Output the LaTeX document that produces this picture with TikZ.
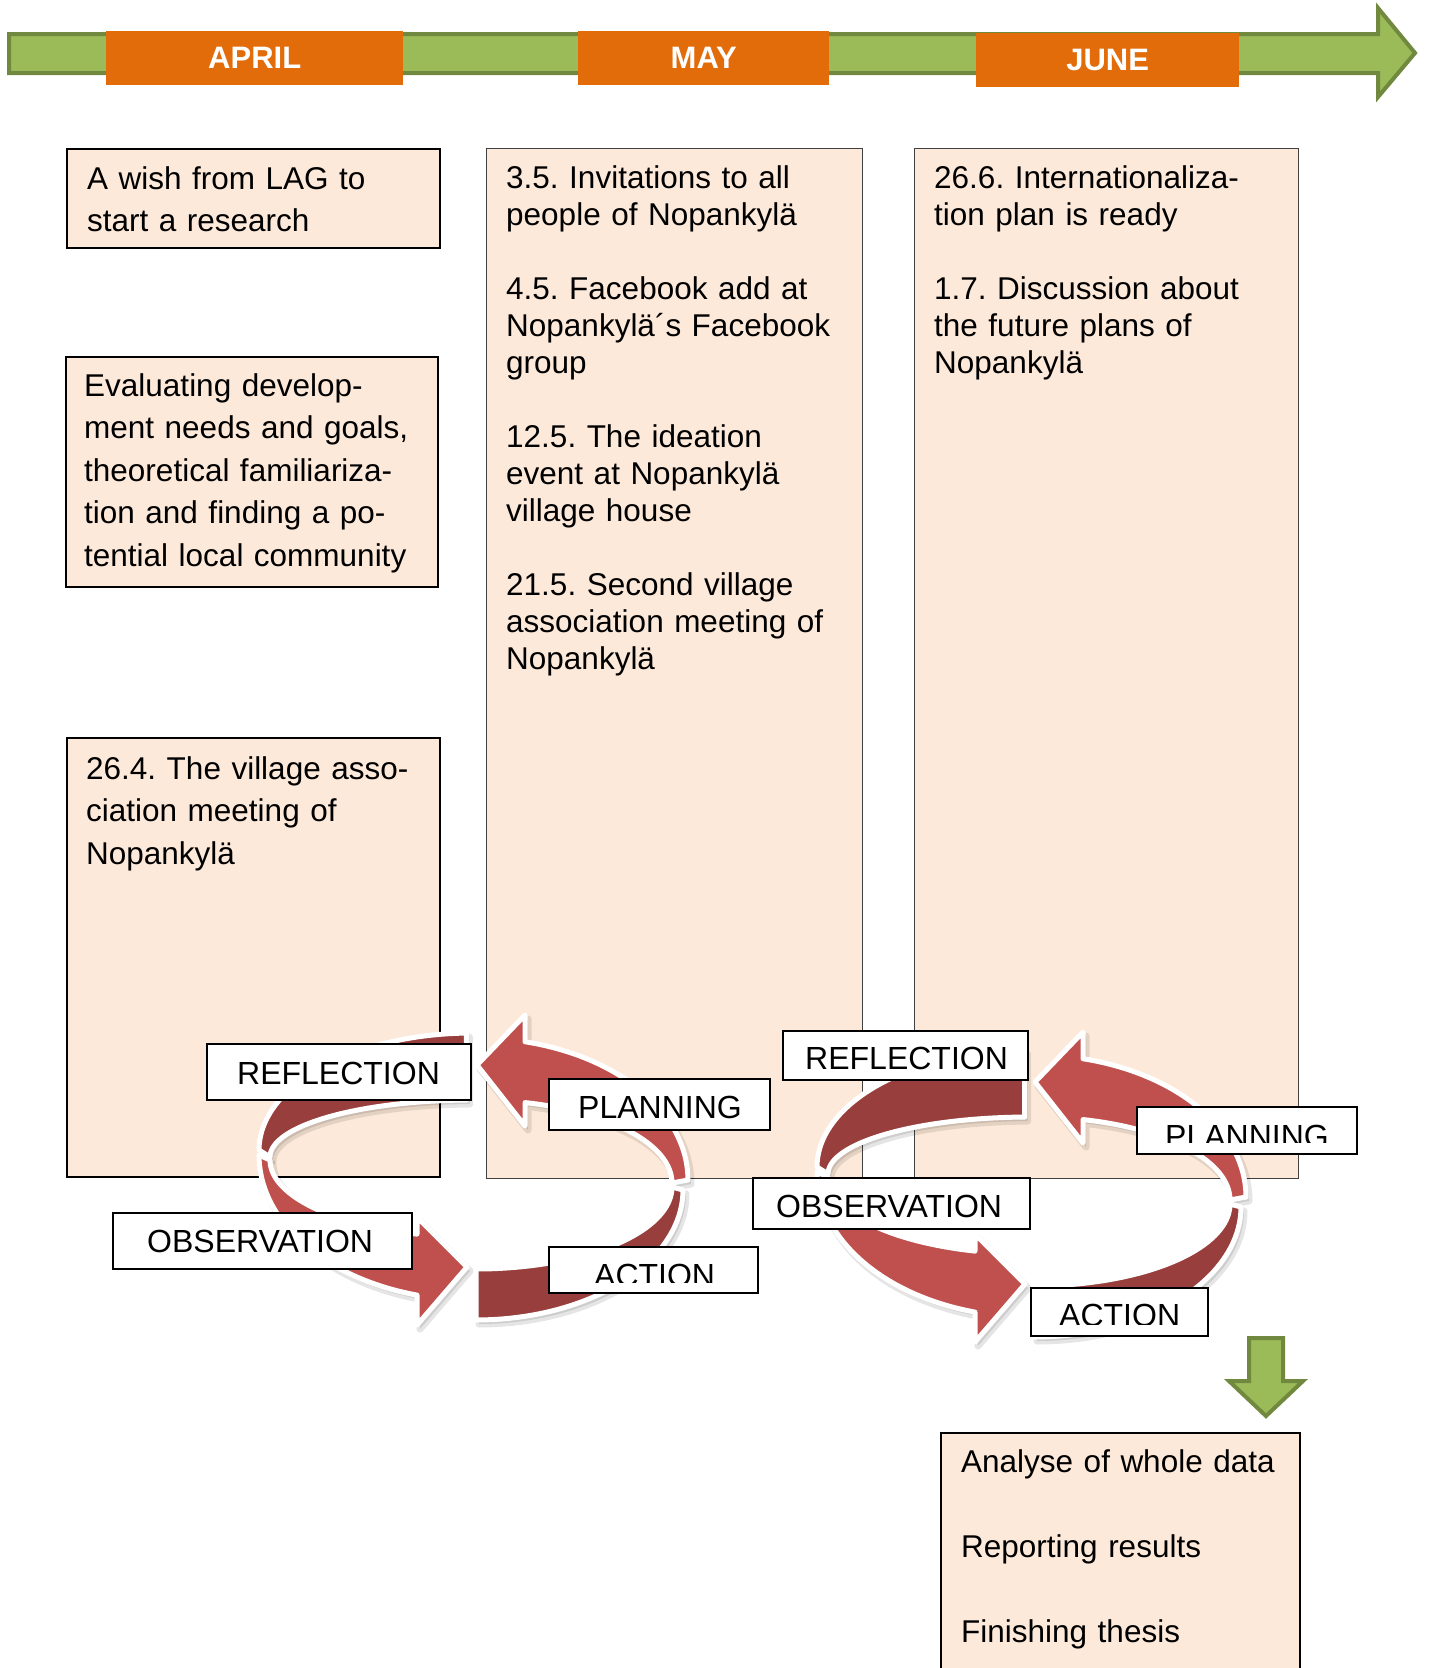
\documentclass[tikz,border=0pt]{standalone}
\usepackage{fontspec}
\setmainfont{Liberation Sans}
\frenchspacing
\definecolor{boxfill}{HTML}{FDE9D9}
\definecolor{monthorange}{HTML}{E36C0A}
\definecolor{arrowgreen}{HTML}{9BBB59}
\definecolor{arrowgreendark}{HTML}{71893F}
\definecolor{ringlight}{HTML}{C0504D}
\definecolor{ringdark}{HTML}{983E3C}
\tikzset{
  tbox/.style={draw=black, line width=2pt, fill=boxfill, inner sep=0pt, anchor=north west},
  tboxthin/.style={tbox, draw=black!75, line width=1.3pt},
  lab/.style={draw=black, line width=2pt, fill=white, inner sep=0pt, anchor=north west},
  labtxt/.style={anchor=base west, inner sep=0pt, font=\fontsize{32}{38}\selectfont},
  txt/.style={anchor=base west, inner sep=0pt, align=left, text width=420pt, font=\fontsize{31.5}{37}\selectfont},
  txtw/.style={txt, font=\fontsize{31.5}{42.5}\selectfont},
  month/.style={fill=monthorange, inner sep=0pt, anchor=north west, text=white, font=\bfseries\fontsize{31}{36}\selectfont},
  greenarrow/.style={line width=4pt, draw=arrowgreendark, fill=arrowgreen, line join=miter},
  segdark/.style={fill=ringdark, draw=white, line width=5pt, line join=round},
  seglight/.style={fill=ringlight, draw=white, line width=5pt, line join=round},
  segshadow/.style={fill=black, draw=black, opacity=0.10, line width=7pt, line join=round},
  ringA/.style={insert path={plot[domain=-91.5:-180,samples=40] ({213*cos(\x)},{-27+117*sin(\x)}) -- plot[domain=-180:-91.5,samples=40] ({202*cos(\x)},{-20+57*sin(\x)}) -- cycle}},
  ringB/.style={insert path={plot[domain=180:104.96,samples=40] ({213*cos(\x)},{-22+145*sin(\x)}) -- (-55,148) -- (-5,90) -- (-55,40) -- plot[domain=105.8:180,samples=40] ({202*cos(\x)},{-17+77*sin(\x)}) -- cycle}},
  ringC/.style={insert path={plot[domain=90:0,samples=40] ({4+207*cos(\x)},{13+130*sin(\x)}) -- plot[domain=0:90,samples=40] ({4+196*cos(\x)},{10+82*sin(\x)}) -- cycle}},
  ringD/.style={insert path={plot[domain=0:-76.85,samples=40] ({5+211*cos(\x)},{3+142*sin(\x)}) -- (53,-162) -- (5,-112) -- (53,-51) -- plot[domain=-75.75:0,samples=40] ({5+195*cos(\x)},{6+83*sin(\x)}) -- cycle}},
}
\newcommand\ringcycle{%
  \begin{scope}[shift={(3,4)}]
    \filldraw[segshadow] [ringC];
    \filldraw[segshadow] [ringA];
    \filldraw[segshadow] [ringB];
    \filldraw[segshadow] [ringD];
  \end{scope}
  \filldraw[segdark] [ringC];
  \filldraw[segdark] [ringA];
  \filldraw[seglight] [ringB];
  \filldraw[seglight] [ringD];
}
\begin{document}
\begin{tikzpicture}[x=1pt,y=-1pt]
\useasboundingbox (0,0) rectangle (1429,1668);
\fill[white] (0,0) rectangle (1429,1668);
% timeline arrow
\draw[greenarrow] (9,34) -- (1378,34) -- (1378,8) -- (1415,53) -- (1378,97) -- (1378,73) -- (9,73) -- cycle;
\node[month, minimum width=297pt, minimum height=54pt] (april) at (106,31) {APRIL};
\node[month, minimum width=251pt, minimum height=54pt] (may) at (578,31) {MAY};
\node[month, minimum width=263pt, minimum height=54pt] (june) at (976,33) {JUNE};
% text boxes
\node[tbox, minimum width=373pt, minimum height=99pt] (b1) at (66,148) {};
\node[txtw] (t1) at (87,189) {A wish from LAG to\\start a research};
\node[tbox, minimum width=372pt, minimum height=230pt] (b2) at (65,356) {};
\node[txtw] (t2) at (84,396) {Evaluating develop-\\ment needs and goals,\\theoretical familiariza-\\tion and finding a po-\\tential local community};
\node[tbox, minimum width=373pt, minimum height=439pt] (b3) at (66,737) {};
\node[txtw] (t3) at (86,779) {26.4. The village asso-\\ciation meeting of\\Nopankylä};
\node[tboxthin, minimum width=376pt, minimum height=1030pt] (b4) at (486,148) {};
\node[txt] (t4) at (506,188) {3.5. Invitations to all\\people of Nopankylä\\[37pt]4.5. Facebook add at\\Nopankylä´s Facebook\\group\\[37pt]12.5. The ideation\\event at Nopankylä\\village house\\[37pt]21.5. Second village\\association meeting of\\Nopankylä};
\node[tboxthin, minimum width=384pt, minimum height=1030pt] (b5) at (914,148) {};
\node[txt] (t5) at (934,188) {26.6. Internationaliza-\\tion plan is ready\\[37pt]1.7. Discussion about\\the future plans of\\Nopankylä};
% cycles
\begin{scope}[shift={(472,1177)}]\ringcycle\end{scope}
\begin{scope}[shift={(1030,1194)}]\ringcycle\end{scope}
% left cycle labels
\node[lab, minimum width=264pt, minimum height=56pt] (lref) at (206,1043) {};
\node[labtxt] (lreft) at (237,1084) {REFLECTION};
\node[lab, minimum width=221pt, minimum height=51pt] (lplan) at (548,1078) {};
\node[labtxt] (lplant) at (578,1118) {PLANNING};
\node[lab, minimum width=299pt, minimum height=56pt] (lobs) at (112,1212) {};
\node[labtxt] (lobst) at (147,1252) {OBSERVATION};
\node[lab, minimum width=209pt, minimum height=46pt] (lact) at (548,1246) {};
\begin{scope}
  \clip (548,1246) rectangle (757,1282);
  \node[labtxt] (lactt) at (594,1286) {ACTION};
\end{scope}
% right cycle labels
\node[lab, minimum width=245pt, minimum height=49pt] (rref) at (782,1030) {};
\node[labtxt] (rreft) at (805,1069) {REFLECTION};
\node[lab, minimum width=220pt, minimum height=47pt] (rplan) at (1136,1106) {};
\begin{scope}
  \clip (1136,1106) rectangle (1356,1142);
  \node[labtxt] (rplant) at (1165,1147) {PLANNING};
\end{scope}
\node[lab, minimum width=277pt, minimum height=51pt] (robs) at (752,1177) {};
\node[labtxt] (robst) at (776,1217) {OBSERVATION};
\node[lab, minimum width=177pt, minimum height=48pt] (ract) at (1030,1287) {};
\begin{scope}
  \clip (1030,1287) rectangle (1207,1324);
  \node[labtxt] (ractt) at (1059,1326) {ACTION};
\end{scope}
% down arrow and final box
\draw[greenarrow] (1249,1338) -- (1283,1338) -- (1283,1381) -- (1303,1381) -- (1266,1416) -- (1229,1381) -- (1249,1381) -- cycle;
\node[tbox, minimum width=359pt, minimum height=300pt] (b6) at (940,1432) {};
\node[txtw] (t6) at (961,1472) {Analyse of whole data\\[42.5pt]Reporting results\\[42.5pt]Finishing thesis};
\end{tikzpicture}
\end{document}
